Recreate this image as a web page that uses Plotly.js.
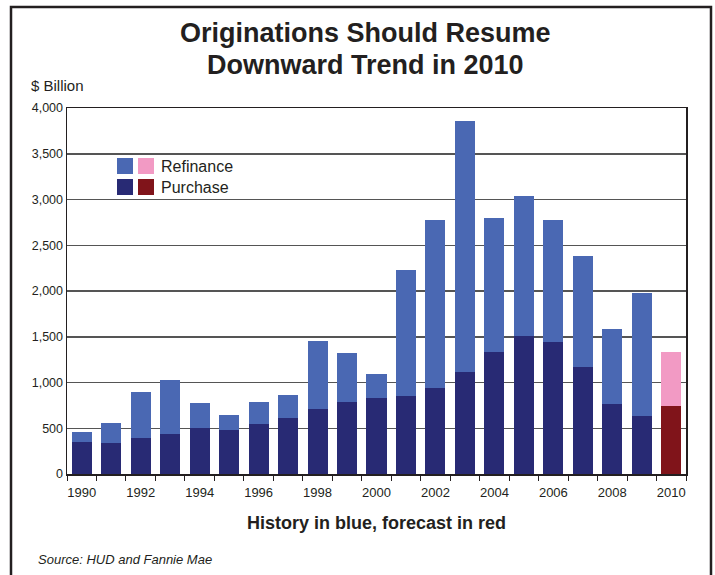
<!DOCTYPE html>
<html>
<head>
<meta charset="utf-8">
<script src="https://cdn.plot.ly/plotly-3.0.1.min.js"></script>
<style>
  html, body { margin: 0; padding: 0; background: #fff; }
  #chart { width: 715px; height: 575px; }
</style>
</head>
<body>
<div id="chart"></div>
<script>
// ---- Data ($ Billion) ----
const years = [1990,1991,1992,1993,1994,1995,1996,1997,1998,1999,2000,2001,2002,2003,2004,2005,2006,2007,2008,2009,2010];
const purchase  = [350,339,393,437,503,481,546,612,710,787,830,852,940,1115,1333,1508,1443,1169,765,634,743];
const refinance = [109,218,503,590,273,164,241,251,744,535,263,1378,1836,2743,1465,1530,1333,1213,820,1344,590];
const forecastYears = [2010];
const xTickLabels = ['1990','1992','1994','1996','1998','2000','2002','2004','2006','2008','2010'];
const xTickVals = [1990,1992,1994,1996,1998,2000,2002,2004,2006,2008,2010];
const yTickVals = [0,500,1000,1500,2000,2500,3000,3500,4000];
const yTickLabels = ['0','500','1,000','1,500','2,000','2,500','3,000','3,500','4,000'];

// ---- Colours ----
const C = {
  refHist: '#4A68B3', purHist: '#282A74',
  refFcst: '#F29AC4', purFcst: '#80141A'
};
const purColors = years.map(y => forecastYears.includes(y) ? C.purFcst : C.purHist);
const refColors = years.map(y => forecastYears.includes(y) ? C.refFcst : C.refHist);

// ---- Layout geometry (pixels) ----
const W = 715, H = 575;
const M = { l: 67, r: 29, t: 108, b: 101 };
const PW = W - M.l - M.r, PH = H - M.t - M.b;
const px = x => (x - M.l) / PW;
const py = y => (H - M.b - y) / PH;

const font = 'Liberation Sans, Arial, sans-serif';

const traces = [
  { type: 'bar', name: 'Purchase', x: years, y: purchase, width: 0.68,
    marker: { color: purColors, line: { width: 0 } }, hoverinfo: 'x+y' },
  { type: 'bar', name: 'Refinance', x: years, y: refinance, width: 0.68,
    marker: { color: refColors, line: { width: 0 } }, hoverinfo: 'x+y' }
];

const layout = {
  width: W, height: H,
  margin: M,
  barmode: 'stack',
  showlegend: false,
  paper_bgcolor: '#fff', plot_bgcolor: '#fff',
  font: { family: font, color: '#231f20' },
  xaxis: {
    type: 'linear', range: [1989.5, 2010.5], fixedrange: true,
    tickmode: 'array', tickvals: xTickVals, ticktext: xTickLabels,
    ticks: '', tickfont: { family: 'Liberation Sans Narrow, Arial Narrow, ' + font, size: 13, color: '#231f20' },
    ticklabelstandoff: 6,
    minor: { ticks: 'outside', tick0: 1989.5, dtick: 1, ticklen: 5, tickwidth: 1, tickcolor: '#231f20', showgrid: false },
    showgrid: false, zeroline: false,
    showline: true, linecolor: '#231f20', linewidth: 1.5, mirror: true,
    title: { text: '<b>History in blue, forecast in red</b>', font: { size: 18, family: font, color: '#231f20' }, standoff: 17 }
  },
  yaxis: {
    range: [0, 4000], fixedrange: true,
    tickmode: 'array', tickvals: yTickVals, ticktext: yTickLabels,
    ticks: '', tickfont: { size: 12.5, family: font, color: '#231f20' },
    showgrid: true, gridcolor: '#555555', gridwidth: 1.5,
    zeroline: false,
    showline: true, linecolor: '#231f20', linewidth: 1.5, mirror: true
  },
  shapes: [
    // outer frame
    { type: 'rect', xref: 'paper', yref: 'paper', x0: px(11), x1: px(711), y0: py(585), y1: py(7),
      line: { color: '#231f20', width: 2.5 }, fillcolor: 'rgba(0,0,0,0)', layer: 'below' },
    // legend swatches
    { type: 'rect', xref: 'paper', yref: 'paper', x0: px(117), x1: px(133), y0: py(174), y1: py(158), fillcolor: C.refHist, line: { width: 0 } },
    { type: 'rect', xref: 'paper', yref: 'paper', x0: px(138), x1: px(154), y0: py(174), y1: py(158), fillcolor: C.refFcst, line: { width: 0 } },
    { type: 'rect', xref: 'paper', yref: 'paper', x0: px(117), x1: px(133), y0: py(195), y1: py(179), fillcolor: C.purHist, line: { width: 0 } },
    { type: 'rect', xref: 'paper', yref: 'paper', x0: px(138), x1: px(154), y0: py(195), y1: py(179), fillcolor: C.purFcst, line: { width: 0 } }
  ],
  annotations: [
    { xref: 'paper', yref: 'paper', x: px(365), y: py(33), xanchor: 'center', yanchor: 'middle', showarrow: false,
      text: '<b>Originations Should Resume</b>',
      font: { size: 27, family: font, color: '#231f20' } },
    { xref: 'paper', yref: 'paper', x: px(365), y: py(65), xanchor: 'center', yanchor: 'middle', showarrow: false,
      text: '<b>Downward Trend in 2010</b>',
      font: { size: 27, family: font, color: '#231f20' } },
    { xref: 'paper', yref: 'paper', x: px(29), y: py(85), xanchor: 'left', yanchor: 'middle', showarrow: false,
      text: '$ Billion', font: { size: 15, family: font, color: '#231f20' } },
    { xref: 'paper', yref: 'paper', x: px(159), y: py(166), xanchor: 'left', yanchor: 'middle', showarrow: false,
      text: 'Refinance', font: { size: 16, family: font, color: '#231f20' } },
    { xref: 'paper', yref: 'paper', x: px(159), y: py(187), xanchor: 'left', yanchor: 'middle', showarrow: false,
      text: 'Purchase', font: { size: 16, family: font, color: '#231f20' } },
    { xref: 'paper', yref: 'paper', x: px(36), y: py(559), xanchor: 'left', yanchor: 'middle', showarrow: false,
      text: '<i>Source: HUD and Fannie Mae</i>', font: { size: 13, family: font, color: '#231f20' } }
  ]
};

Plotly.newPlot('chart', traces, layout, { displayModeBar: false, staticPlot: true });
</script>
</body>
</html>
